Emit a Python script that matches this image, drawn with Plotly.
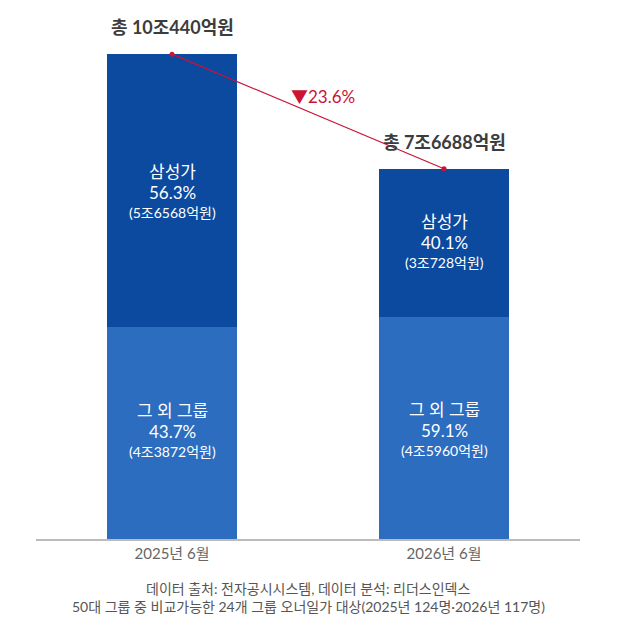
import plotly.graph_objects as go

categories = ["2025년 6월", "2026년 6월"]
samsung = [5.6568, 3.0728]
others = [4.3872, 4.5960]
samsung_pct = ["56.3%", "40.1%"]
others_pct = ["43.7%", "59.1%"]
samsung_amt = ["5조6568억원", "3조728억원"]
others_amt = ["4조3872억원", "4조5960억원"]
total_labels = ["총 10조440억원", "총 7조6688억원"]
change_label = "▼23.6%"
footnote = ["데이터 출처: 전자공시시스템, 데이터 분석: 리더스인덱스",
            "50대 그룹 중 비교가능한 24개 그룹 오너일가 대상(2025년 124명·2026년 117명)"]

totals = [s + o for s, o in zip(samsung, others)]

FONT = "Lato, 'Noto Sans CJK KR', sans-serif"
DARK = "#0B4A9E"
LIGHT = "#2C6DBF"
RED = "#CC1236"

fig = go.Figure()
fig.add_trace(go.Bar(x=categories, y=others, marker=dict(color=LIGHT, line=dict(width=0)),
                     hoverinfo="skip"))
fig.add_trace(go.Bar(x=categories, y=samsung, marker=dict(color=DARK, line=dict(width=0)),
                     hoverinfo="skip"))
fig.add_trace(go.Scatter(
    x=categories, y=totals, mode="lines+markers",
    line=dict(color=RED, width=1.2), marker=dict(color=RED, size=5),
    hoverinfo="skip",
))

annotations = []


def seg_label(c, yc, name, pct, amt, shift):
    lines = [(name, 17, 21), (pct, 17, 0), (f"({amt})", 14, -20)]
    for txt, size, dy in lines:
        annotations.append(dict(
            x=c, y=yc, xref="x", yref="y", showarrow=False, yshift=dy + shift,
            text=txt, font=dict(family=FONT, size=size, color="white"),
            xanchor="center", yanchor="middle"))


for i, (c, o, s) in enumerate(zip(categories, others, samsung)):
    seg_label(c, o / 2, "그 외 그룹", others_pct[i], others_amt[i], 2 if i == 0 else -2)
    seg_label(c, o + s / 2, "삼성가", samsung_pct[i], samsung_amt[i], -2 if i == 0 else 0)

for c, t, lab in zip(categories, totals, total_labels):
    annotations.append(dict(x=c, y=t, xref="x", yref="y", text=lab, showarrow=False, yshift=27,
                            font=dict(family=FONT, size=18, color="#3C3C3C", weight="bold")))

annotations.append(dict(x=0.555, y=9.17, xref="x", yref="y", text=change_label, showarrow=False,
                        font=dict(family=FONT, size=17, color=RED)))

annotations.append(dict(x=0.5, y=-0.094, xref="paper", yref="paper", text=footnote[0], showarrow=False,
                        xanchor="center", yanchor="middle",
                        font=dict(family=FONT, size=14, color="#555555")))
annotations.append(dict(x=0.5, y=-0.128, xref="paper", yref="paper", text=footnote[1], showarrow=False,
                        xanchor="center", yanchor="middle",
                        font=dict(family=FONT, size=14, color="#555555")))

fig.update_layout(
    width=624, height=625,
    margin=dict(l=36, r=44, t=8, b=86),
    barmode="stack", bargap=0.52,
    showlegend=False,
    plot_bgcolor="white", paper_bgcolor="white",
    annotations=annotations,
)
fig.update_xaxes(showline=True, linecolor="#BBBBBB", linewidth=1.5, ticks="",
                 tickfont=dict(family=FONT, size=15, color="#666666"), showgrid=False)
fig.update_yaxes(visible=False, range=[0, 11], showgrid=False, zeroline=False)

fig.write_html("out.html")
